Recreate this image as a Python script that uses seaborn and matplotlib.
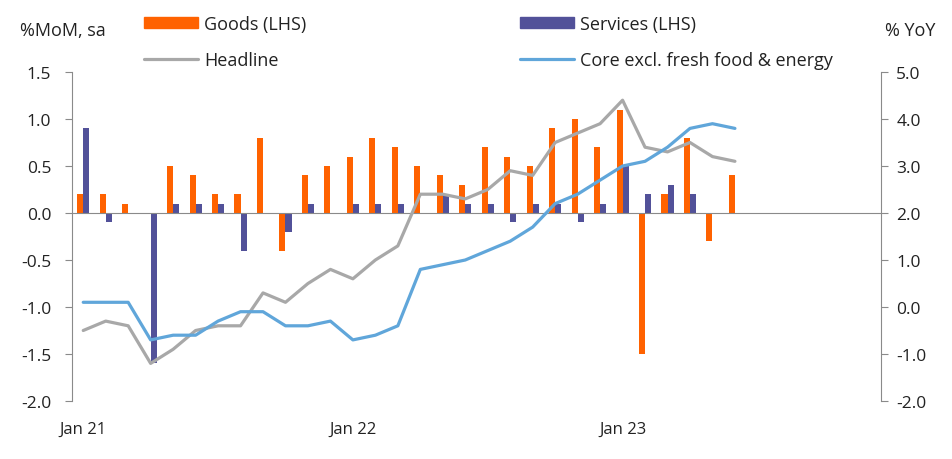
import matplotlib
matplotlib.use("Agg")
from matplotlib import pyplot as plt
from matplotlib.patches import Patch
from matplotlib.lines import Line2D
import seaborn as sns
import numpy as np
import pandas as pd

# monthly data, Jan 21 .. Jun 23
months = list(range(30))
goods = [0.2, 0.2, 0.1, 0.0, 0.5, 0.4, 0.2, 0.2, 0.8, -0.4, 0.4, 0.5,
         0.6, 0.8, 0.7, 0.5, 0.4, 0.3, 0.7, 0.6, 0.5, 0.9, 1.0, 0.7,
         1.1, -1.5, 0.2, 0.8, -0.3, 0.4]
services = [0.9, -0.1, 0.0, -1.6, 0.1, 0.1, 0.1, -0.4, 0.0, -0.2, 0.1, 0.0,
            0.1, 0.1, 0.1, 0.0, 0.2, 0.1, 0.1, -0.1, 0.1, 0.1, -0.1, 0.1,
            0.5, 0.2, 0.3, 0.2, 0.0, 0.0]
headline = [-0.5, -0.3, -0.4, -1.2, -0.9, -0.5, -0.4, -0.4, 0.3, 0.1, 0.5, 0.8,
            0.6, 1.0, 1.3, 2.4, 2.4, 2.3, 2.5, 2.9, 2.8, 3.5, 3.7, 3.9,
            4.4, 3.4, 3.3, 3.5, 3.2, 3.1]
core = [0.1, 0.1, 0.1, -0.7, -0.6, -0.6, -0.3, -0.1, -0.1, -0.4, -0.4, -0.3,
        -0.7, -0.6, -0.4, 0.8, 0.9, 1.0, 1.2, 1.4, 1.7, 2.2, 2.4, 2.7,
        3.0, 3.1, 3.4, 3.8, 3.9, 3.8]
tick_pos = [0, 12, 24]
tick_labels = ["Jan 21", "Jan 22", "Jan 23"]

ORANGE = "#FF6200"
PURPLE = "#525199"
GREY = "#A8A8A8"
BLUE = "#60A6DA"
AXIS = "#8A8A8A"
TEXT = "#222222"

sns.set_style("white")
plt.rcParams['font.family'] = ['Open Sans', 'DejaVu Sans']
plt.rcParams['font.size'] = 12

df = pd.DataFrame({
    'month': months * 2,
    'value': goods + services,
    'series': ['Goods (LHS)'] * 30 + ['Services (LHS)'] * 30,
})

fig = plt.figure(figsize=(9.52, 4.6), dpi=100)
ax = fig.add_axes([72 / 952, 58 / 460, 809 / 952, 329 / 460])

sns.barplot(data=df, x='month', y='value', hue='series',
            palette=[ORANGE, PURPLE], width=0.54, gap=0, saturation=1,
            linewidth=0, legend=False, ax=ax)

ax2 = ax.twinx()
sns.lineplot(x=months, y=headline, color=GREY, lw=2.3, ax=ax2)
sns.lineplot(x=months, y=core, color=BLUE, lw=2.3, ax=ax2)

for a in (ax, ax2):
    a.set_xlim(-0.5, 35.5)
    a.set_xlabel("")
    a.set_ylabel("")
    a.spines['top'].set_visible(False)

ax.set_ylim(-2, 1.5)
ax.set_yticks(np.arange(-2, 1.51, 0.5))
ax.set_yticklabels([f"{v:.1f}" for v in np.arange(-2, 1.51, 0.5)])
ax2.set_ylim(-2, 5)
ax2.set_yticks(np.arange(-2, 5.1, 1))
ax2.set_yticklabels([f"{v:.1f}" for v in np.arange(-2, 5.1, 1)])

ax.spines['right'].set_visible(False)
ax2.spines['left'].set_visible(False)
ax2.spines['bottom'].set_visible(False)
ax.spines['bottom'].set_position(('data', 0))
for s in ('left', 'bottom'):
    ax.spines[s].set_color(AXIS)
ax2.spines['right'].set_color(AXIS)

ax.set_xticks(tick_pos)
ax.set_xticklabels(tick_labels)
ax.set_xticks([11.5, 23.5], minor=True)
ax.tick_params(axis='x', which='major', length=0, pad=150, colors=TEXT, labelsize=12)
ax.tick_params(axis='x', which='minor', length=4, direction='out', color=AXIS)
ax.tick_params(axis='y', length=5, direction='out', color=AXIS, labelcolor=TEXT,
               labelsize=12.5, pad=10, left=True)
ax2.tick_params(axis='y', length=5, direction='out', color=AXIS, labelcolor=TEXT,
                labelsize=12.5, pad=6, right=True)

fig.text(20 / 952, 1 - 31 / 460, "%MoM, sa", ha='left', va='center', fontsize=13, color=TEXT)
fig.text(935 / 952, 1 - 31 / 460, "% YoY", ha='right', va='center', fontsize=13, color=TEXT)

leg_kw = dict(loc='upper left', frameon=False, fontsize=13, handlelength=3.0,
              handleheight=0.6, handletextpad=0.35, labelspacing=1.0,
              borderpad=0, borderaxespad=0, labelcolor=TEXT)
leg1 = fig.legend([Patch(color=ORANGE), Line2D([], [], color=GREY, lw=2.3)],
                  ["Goods (LHS)", "Headline"],
                  bbox_to_anchor=(144 / 952, 1 - 16 / 460), **leg_kw)
leg2 = fig.legend([Patch(color=PURPLE), Line2D([], [], color=BLUE, lw=2.3)],
                  ["Services (LHS)", "Core excl. fresh food & energy"],
                  bbox_to_anchor=(520 / 952, 1 - 16 / 460), **leg_kw)

fig.savefig("out.png", dpi=100)
